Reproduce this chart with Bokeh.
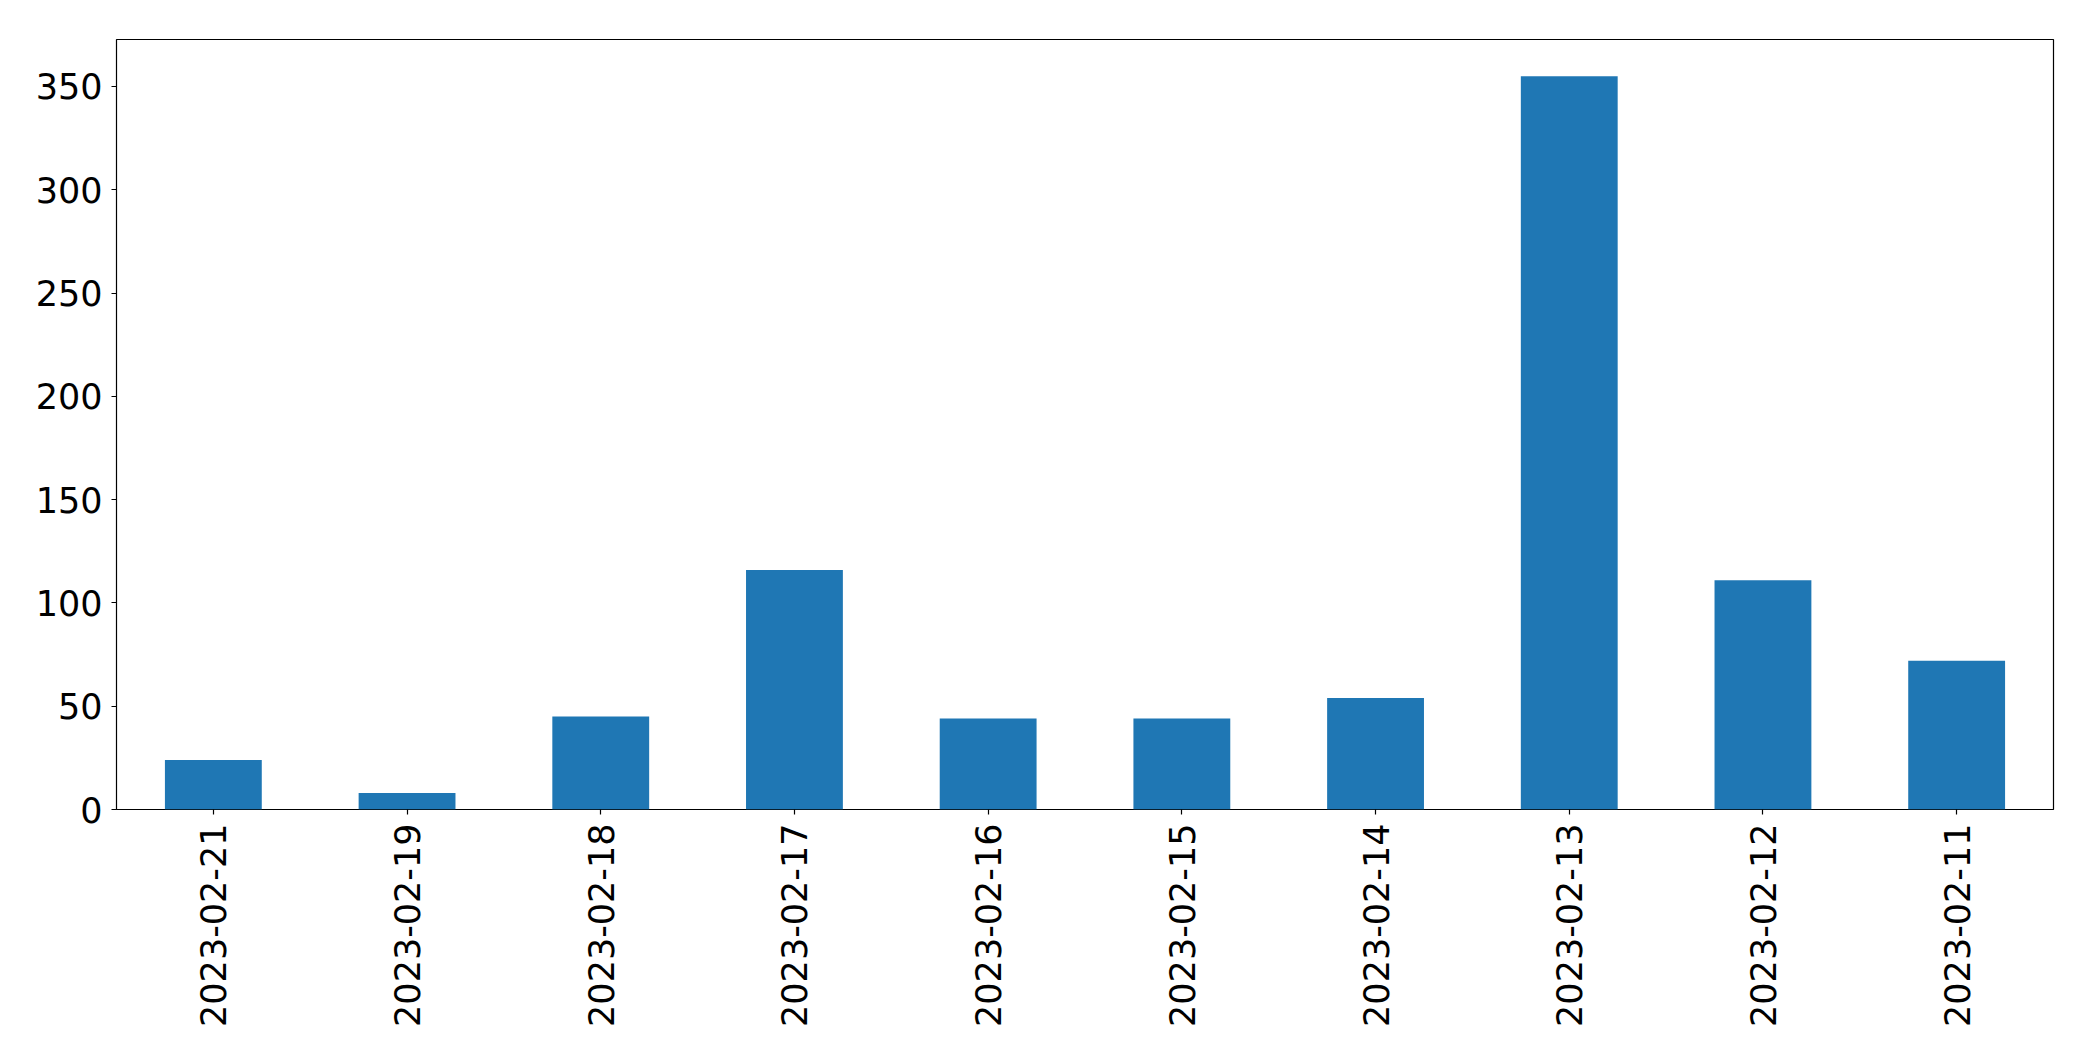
import math
from bokeh.plotting import figure
from bokeh.models import FactorRange, Range1d, FixedTicker, ColumnDataSource
from bokeh.embed import file_html
from bokeh.resources import INLINE

dates = ["2023-02-21", "2023-02-19", "2023-02-18", "2023-02-17", "2023-02-16",
         "2023-02-15", "2023-02-14", "2023-02-13", "2023-02-12", "2023-02-11"]
counts = [24, 8, 45, 116, 44, 44, 54, 355, 111, 72]
y_ticks = [0, 50, 100, 150, 200, 250, 300, 350]

src = ColumnDataSource(dict(date=dates, count=counts))

p = figure(width=2077, height=1045, output_backend="svg", toolbar_location=None,
           x_range=FactorRange(*dates, range_padding=0),
           y_range=Range1d(0, max(counts) * 1.05))
p.min_border_left = 116
p.min_border_right = 24
p.min_border_top = 39
p.min_border_bottom = 236

p.vbar(x="date", top="count", width=0.5, source=src, fill_color="#1f77b4", line_color=None)

p.xgrid.visible = False
p.ygrid.visible = False
p.outline_line_color = "black"
p.outline_line_width = 1.2
p.background_fill_color = "white"
p.border_fill_color = "white"

font = "DejaVu Sans"
for ax in (p.xaxis[0], p.yaxis[0]):
    ax.axis_line_color = None
    ax.major_tick_line_color = "black"
    ax.major_tick_line_width = 1.2
    ax.major_tick_out = 5
    ax.major_tick_in = 0
    ax.minor_tick_line_color = None
    ax.major_label_text_font = font
    ax.major_label_text_font_size = "35px"
    ax.major_label_text_color = "black"
    ax.major_label_standoff = 9

p.yaxis[0].ticker = FixedTicker(ticks=y_ticks)
p.xaxis[0].major_label_orientation = math.pi / 2

open("out.html", "w").write(file_html(p, INLINE))
